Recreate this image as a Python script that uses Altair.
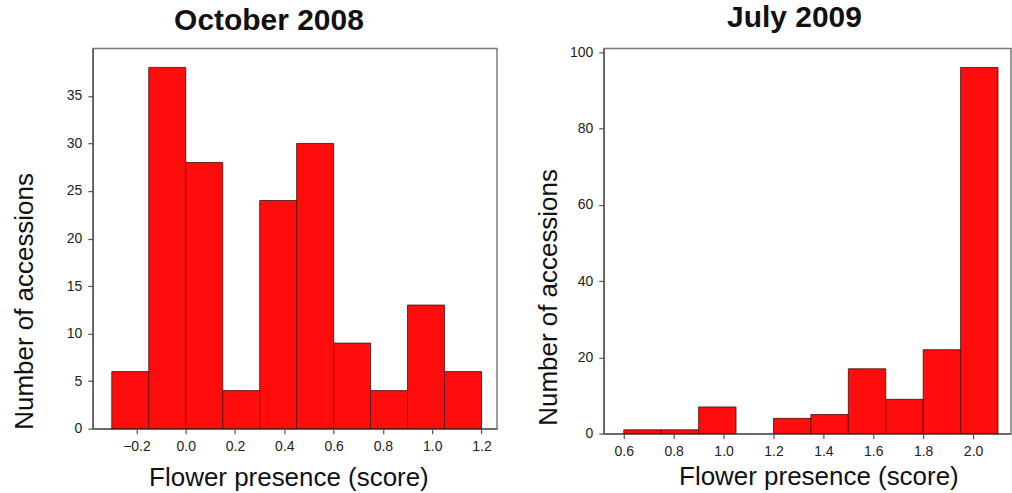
import altair as alt
import pandas as pd

# Left panel: October 2008
oct_bin_start = [-0.30, -0.15, 0.00, 0.15, 0.30, 0.45, 0.60, 0.75, 0.90, 1.05]
oct_counts = [6, 38, 28, 4, 24, 30, 9, 4, 13, 6]
oct_ticks = [-0.2, 0.0, 0.2, 0.4, 0.6, 0.8, 1.0, 1.2]
oct_yticks = [0, 5, 10, 15, 20, 25, 30, 35]

# Right panel: July 2009
jul_bin_start = [0.60, 0.75, 0.90, 1.05, 1.20, 1.35, 1.50, 1.65, 1.80, 1.95]
jul_counts = [1, 1, 7, 0, 4, 5, 17, 9, 22, 96]
jul_ticks = [0.6, 0.8, 1.0, 1.2, 1.4, 1.6, 1.8, 2.0]
jul_yticks = [0, 20, 40, 60, 80, 100]

BIN_W = 0.15

FONT = "Liberation Sans"
BAR = "#ff0d0d"
EDGE = "#4a0a0a"


def make_df(starts, counts):
    return pd.DataFrame({
        "start": starts,
        "end": [s + BIN_W for s in starts],
        "count": counts,
    })


def panel(df, title, title_dx, xdom, xticks, ydom, yticks, w, h,
          ytx, yty, xtx, xty):
    return alt.Chart(df).transform_filter(
        alt.datum.count > 0
    ).mark_rect(
        color=BAR, stroke=EDGE, strokeWidth=0.8
    ).encode(
        x=alt.X("start:Q",
                scale=alt.Scale(domain=xdom, nice=False, zero=False),
                axis=alt.Axis(values=xticks, format=".1f",
                              title="Flower presence (score)",
                              titleX=xtx, titleY=xty,
                              titleAlign="center", titleBaseline="alphabetic")),
        x2="end:Q",
        y=alt.Y("count:Q",
                scale=alt.Scale(domain=ydom, nice=False),
                axis=alt.Axis(values=yticks, format="d",
                              title="Number of accessions",
                              titleX=ytx, titleY=yty, titleAngle=270,
                              titleAlign="center", titleBaseline="alphabetic")),
        y2=alt.datum(0),
    ).properties(
        width=w, height=h,
        title=alt.TitleParams(title, fontSize=30, font=FONT, fontWeight="bold",
                              anchor="middle", frame="group", dx=title_dx,
                              baseline="alphabetic", offset=-12, color="#111"),
    )


left = panel(make_df(oct_bin_start, oct_counts), "October 2008", -26,
             [-0.377, 1.263], oct_ticks, [0, 40], oct_yticks, 405, 381,
             -60, 253, 196, 57)
right = panel(make_df(jul_bin_start, jul_counts), "July 2009", -13,
              [0.52, 2.152], jul_ticks, [0, 101], jul_yticks, 408, 386,
              -47, 249, 215, 51)

chart = alt.hconcat(left, right, spacing=37).properties(
    padding={"left": 11, "top": 2, "right": 0, "bottom": 0},
    background="white",
).configure_view(
    stroke="#7a7a7a", strokeWidth=1.5
).configure_axis(
    grid=False,
    domainColor="#555", domainWidth=1.2,
    tickColor="#555", tickSize=5, tickWidth=1.2,
    labelFont=FONT, labelFontSize=14, labelColor="#222",
    labelPadding=6,
    titleFont=FONT, titleFontSize=26, titleFontWeight="normal", titleColor="#111",
)

chart.save("out.html", embed_options={"renderer": "svg", "actions": False})
